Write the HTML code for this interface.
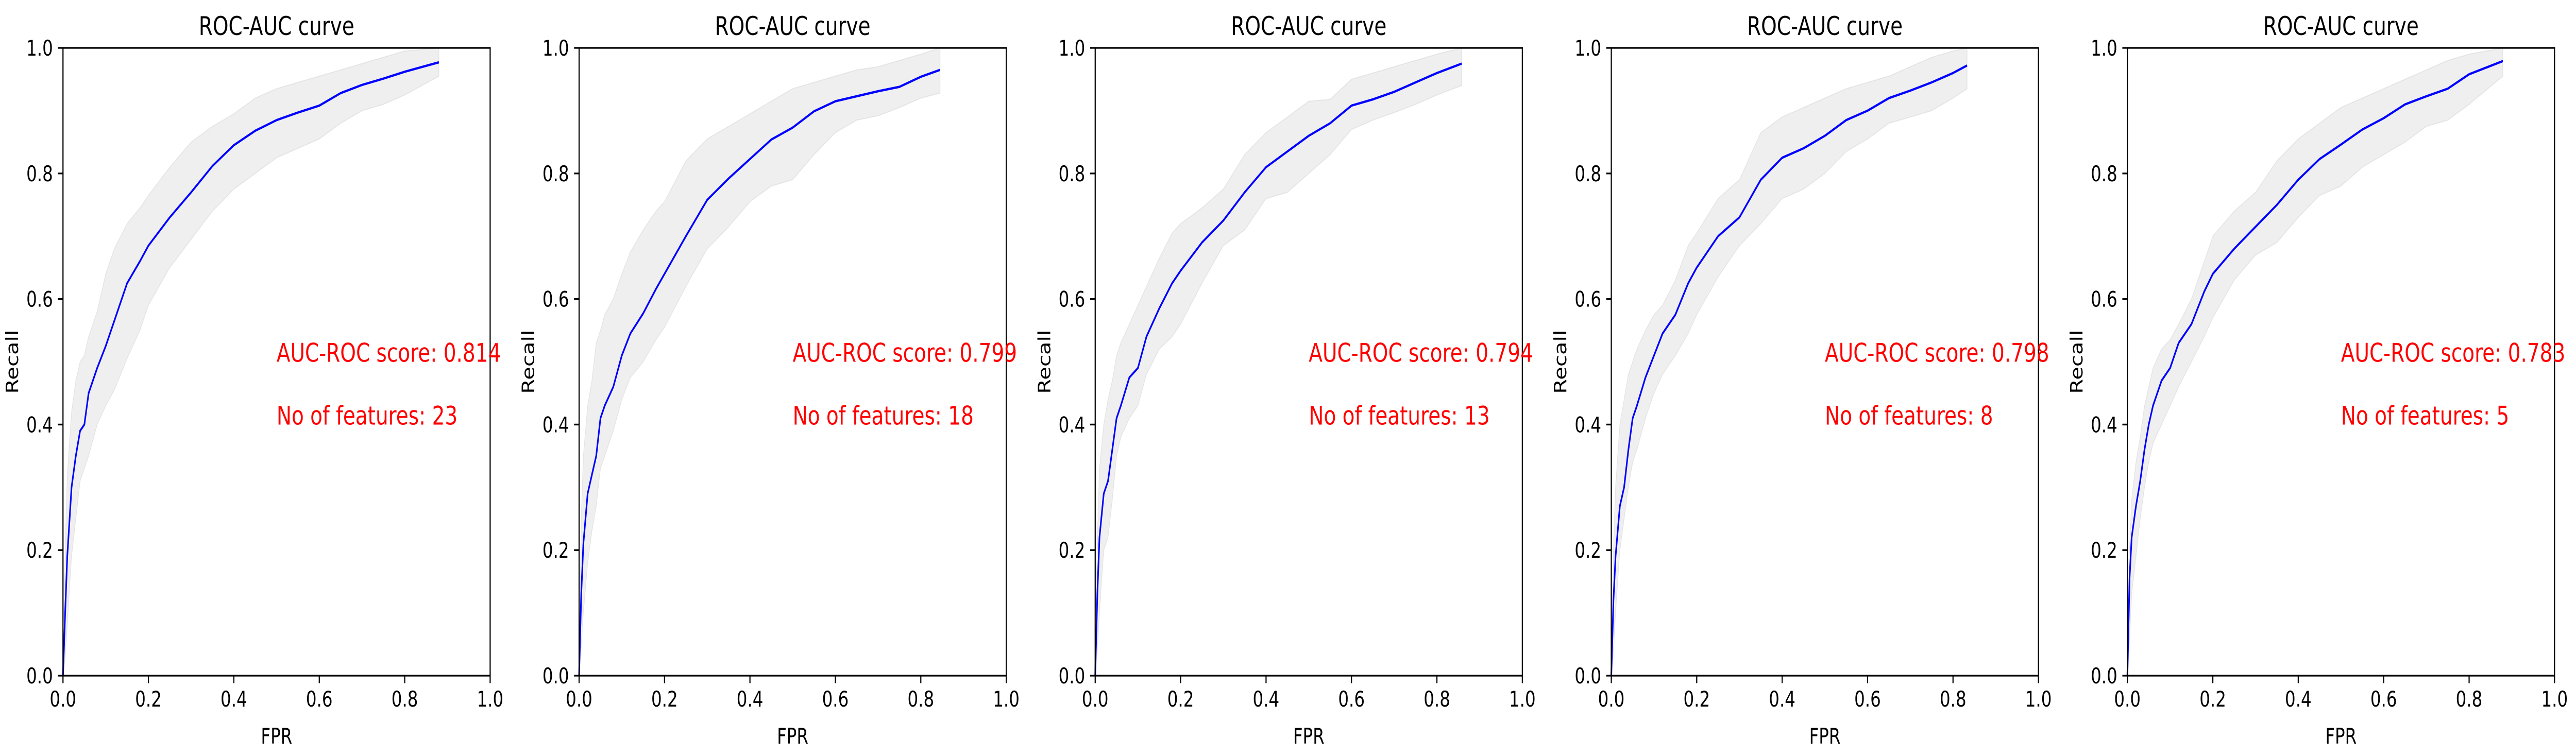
<!DOCTYPE html>
<html><head><meta charset="utf-8"><style>
html,body{margin:0;padding:0;background:#fff;overflow:hidden;width:100%;height:100%;}
svg{display:block;position:absolute;left:0;top:0;width:100vw;height:100vh;font-family:"DejaVu Sans","Liberation Sans",sans-serif;}
</style></head><body>
<svg id="fig" viewBox="0 0 7442 1468" preserveAspectRatio="none" xmlns="http://www.w3.org/2000/svg"></svg>
<script>
const xGrid=[0,.005,.01,.02,.03,.04,.05,.06,.08,.10,.12,.15,.18,.20,.25,.30,.35,.40,.45,.50,.55,.60,.65,.70,.75,.80];
const xEnd=[.88,.845,.858,.833,.879];
const scores=["0.814","0.799","0.794","0.798","0.783"];
const nFeatures=[23,18,13,8,5];
const tickVals=[0,0.2,0.4,0.6,0.8,1.0];
const tickLabels=["0.0","0.2","0.4","0.6","0.8","1.0"];
const mean1=[0,.10,.19,.30,.35,.39,.40,.45,.49,.525,.565,.625,.66,.685,.73,.77,.812,.845,.868,.885,.897,.908,.928,.941,.951,.962,.977];
const upper1=[0,.2,.32,.42,.47,.50,.51,.54,.58,.64,.68,.72,.745,.765,.81,.85,.875,.895,.92,.935,.945,.955,.965,.975,.985,.995,1.0];
const lower1=[0,.03,.08,.19,.25,.31,.33,.35,.40,.43,.455,.505,.55,.59,.65,.695,.74,.775,.80,.825,.84,.855,.88,.90,.91,.925,.955];
const mean2=[0,.13,.21,.29,.32,.35,.41,.43,.46,.51,.545,.577,.616,.64,.70,.758,.792,.823,.854,.873,.899,.915,.923,.931,.938,.954,.965];
const upper2=[0,.25,.35,.43,.47,.53,.55,.575,.6,.64,.675,.71,.74,.755,.82,.855,.875,.895,.915,.935,.945,.955,.965,.97,.98,.99,1.0];
const lower2=[0,.05,.10,.18,.23,.27,.33,.35,.39,.44,.475,.50,.535,.555,.62,.68,.715,.755,.78,.79,.83,.865,.885,.892,.905,.92,.928];
const mean3=[0,.13,.22,.29,.31,.36,.41,.43,.475,.49,.54,.585,.625,.645,.69,.725,.77,.81,.835,.86,.88,.908,.918,.93,.945,.96,.975];
const upper3=[0,.22,.33,.40,.44,.47,.51,.53,.56,.59,.62,.665,.705,.72,.745,.775,.83,.865,.89,.915,.918,.95,.96,.97,.98,.99,1.0];
const lower3=[0,.04,.10,.20,.22,.28,.35,.38,.41,.43,.48,.52,.54,.56,.625,.685,.71,.76,.77,.80,.83,.87,.885,.897,.91,.925,.94];
const mean4=[0,.12,.19,.27,.30,.36,.41,.43,.475,.51,.545,.575,.625,.65,.70,.73,.79,.825,.84,.86,.885,.90,.92,.932,.945,.96,.972];
const upper4=[0,.20,.30,.40,.44,.48,.50,.52,.55,.575,.59,.63,.685,.705,.76,.79,.865,.89,.905,.92,.935,.945,.955,.97,.985,.995,1.0];
const lower4=[0,.04,.10,.20,.25,.30,.34,.36,.41,.45,.48,.51,.545,.575,.635,.685,.72,.76,.775,.80,.835,.855,.88,.89,.90,.92,.935];
const mean5=[0,.155,.22,.27,.31,.36,.40,.43,.47,.49,.53,.56,.612,.64,.68,.715,.75,.79,.823,.846,.87,.888,.91,.923,.935,.958,.979];
const upper5=[0,.20,.28,.34,.38,.43,.46,.49,.52,.535,.56,.60,.66,.70,.74,.77,.82,.855,.88,.905,.92,.935,.95,.965,.98,.99,1.0];
const lower5=[0,.06,.13,.19,.25,.30,.34,.37,.40,.43,.46,.50,.54,.57,.63,.67,.69,.73,.765,.78,.81,.83,.85,.875,.885,.91,.955];

const means=[mean1,mean2,mean3,mean4,mean5];
const uppers=[upper1,upper2,upper3,upper4,upper5];
const lowers=[lower1,lower2,lower3,lower4,lower5];

const NS="http://www.w3.org/2000/svg";
const svg=document.getElementById('fig');
const L0=182, STEP=1491, W=1234, TOP=93, BOT=1312, H=BOT-TOP;
const K=1.16;
function mk(tag,attrs,parent){const e=document.createElementNS(NS,tag);for(const k in attrs)e.setAttribute(k,attrs[k]);parent.appendChild(e);return e;}
function fix(el,x,y,extra){el.setAttribute('transform','translate('+x+' '+y+') scale('+K+' 1) translate('+(-x)+' '+(-y)+')'+(extra?' '+extra:''));}

for(let p=0;p<5;p++){
  const left=L0+STEP*p;
  const sx=v=>left+v*W;
  const sy=v=>BOT-v*H;
  const g=mk('g',{},svg);
  
  
  const xs=xGrid.concat([xEnd[p]]);
  let d='M'+xs.map((x,i)=>sx(x).toFixed(1)+','+sy(uppers[p][i]).toFixed(1)).join('L');
  for(let i=xs.length-1;i>=0;i--) d+='L'+sx(xs[i]).toFixed(1)+','+sy(lowers[p][i]).toFixed(1);
  const band=mk('path',{d:d+'Z',fill:'#bebebe','fill-opacity':'0.25',stroke:'#bebebe','stroke-opacity':'0.3','stroke-width':'2'},g);
  
  
  const line=mk('polyline',{points:xs.map((x,i)=>sx(x).toFixed(1)+','+sy(means[p][i]).toFixed(1)).join(' '),fill:'none',stroke:'#0000ff','stroke-width':'4.5','stroke-linejoin':'round'},g);
  
  
  const fr=mk('rect',{x:left,y:TOP,width:W,height:H,fill:'none',stroke:'#000','stroke-width':'3.3'},g);
  
  
  tickVals.forEach((v,i)=>{
    mk('line',{x1:sx(v),y1:BOT,x2:sx(v),y2:BOT+14.6,stroke:'#000','stroke-width':'3.3'},g);
    const tx=mk('text',{x:sx(v),y:1372,'text-anchor':'middle','font-size':'41.7',fill:'#000'},g);
    tx.textContent=tickLabels[i];
    
    
    fix(tx,sx(v),1372);
    mk('line',{x1:left-14.6,y1:sy(v),x2:left,y2:sy(v),stroke:'#000','stroke-width':'3.3'},g);
    const ty=mk('text',{x:left-29,y:sy(v)+15,'text-anchor':'end','font-size':'41.7',fill:'#000'},g);
    ty.textContent=tickLabels[i];
    
    
    fix(ty,left-29,sy(v)+15);
  });
  const t=mk('text',{x:left+W/2,y:68,'text-anchor':'middle','font-size':'50',fill:'#000'},g);
  t.textContent='ROC-AUC curve';
  
  
  fix(t,left+W/2,68);
  const xl=mk('text',{x:left+W/2,y:1444,'text-anchor':'middle','font-size':'41.7',fill:'#000'},g);
  xl.textContent='FPR';
  
  
  fix(xl,left+W/2,1444);
  const yx=left-130, yy=TOP+H/2;
  const yl=mk('text',{x:yx,y:yy,'text-anchor':'middle','font-size':'41.7',fill:'#000'},g);
  yl.textContent='Recall';
  
  
  fix(yl,yx,yy,'rotate(-90 '+yx+' '+yy+')');
  const s=mk('text',{x:sx(0.5),y:sy(0.5),'font-size':'50',fill:'#ff0000'},g);
  s.textContent='AUC-ROC score: '+scores[p];
  
  
  fix(s,sx(0.5),sy(0.5));
  const f=mk('text',{x:sx(0.5),y:sy(0.4),'font-size':'50',fill:'#ff0000'},g);
  f.textContent='No of features: '+nFeatures[p];
  
  
  fix(f,sx(0.5),sy(0.4));
}
</script>
</body></html>
